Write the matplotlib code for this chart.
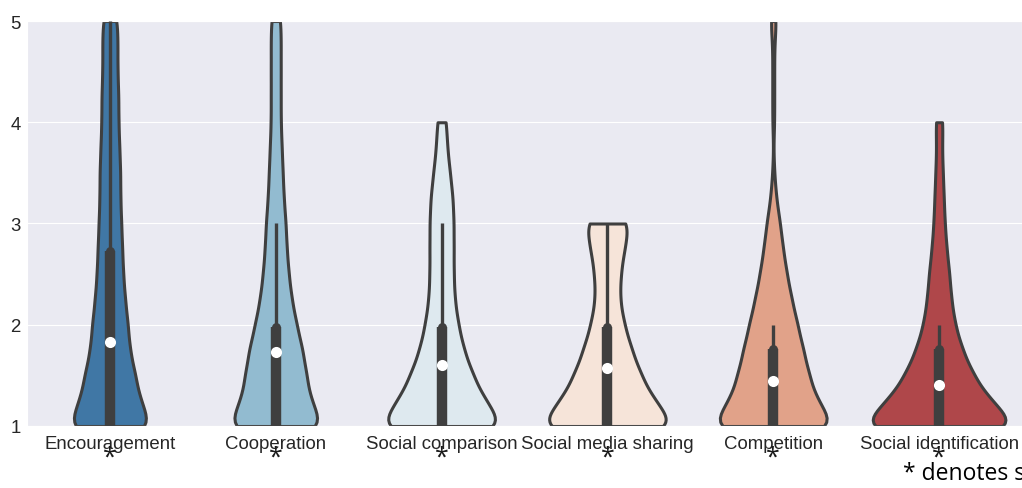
import matplotlib
matplotlib.use("Agg")
import matplotlib.pyplot as plt
import numpy as np
import pandas as pd
import seaborn as sns

# ---------------------------------------------------------------
# Mechanism ratings on a 1-5 scale
# ---------------------------------------------------------------

categories = [
    "Encouragement",
    "Cooperation",
    "Social comparison",
    "Social media sharing",
    "Competition",
    "Social identification",
]
significant = [True, True, True, True, True, True]

# rating levels and number of responses at each level
score_levels = [1.0, 1.25, 1.5, 1.75, 2.0, 2.25, 2.5, 2.75, 3.0,
                3.25, 3.5, 3.75, 4.0, 4.25, 4.5, 4.75, 5.0]

encouragement_counts = [46, 32, 27, 21, 19, 16, 14, 13, 12, 11, 11, 10, 9, 9, 8, 8, 8]
cooperation_counts = [50, 35, 31, 27, 21, 16, 13, 11, 10, 8, 7, 6, 5, 5, 5, 5, 5]
comparison_counts = [70, 47, 34, 24, 18, 14, 13, 13, 13, 12, 9, 6, 5, 0, 0, 0, 0]
sharing_counts = [76, 50, 36, 26, 18, 13, 14, 18, 24, 0, 0, 0, 0, 0, 0, 0, 0]
competition_counts = [67, 45, 37, 31, 25, 19, 14, 10, 7, 3, 1, 0, 1, 1, 1, 1, 3]
identification_counts = [88, 55, 37, 25, 17, 13, 11, 8, 6, 5, 4, 3, 4, 0, 0, 0, 0]

# box summaries per mechanism
q1 = [1.0, 1.0, 1.0, 1.0, 1.0, 1.0]
median = [1.83, 1.73, 1.6, 1.57, 1.44, 1.4]
q3 = [2.73, 1.98, 1.98, 1.98, 1.76, 1.76]
whisker_low = [1.0, 1.0, 1.0, 1.0, 1.0, 1.0]
whisker_high = [5.0, 3.0, 3.0, 3.0, 2.0, 2.0]

counts = [
    encouragement_counts,
    cooperation_counts,
    comparison_counts,
    sharing_counts,
    competition_counts,
    identification_counts,
]

df = pd.concat(
    [pd.DataFrame({"mechanism": name, "score": np.repeat(score_levels, c)})
     for name, c in zip(categories, counts)],
    ignore_index=True,
)

# ---------------------------------------------------------------
# Plot
# ---------------------------------------------------------------

sns.set_style("darkgrid")
plt.rcParams["font.family"] = ["Liberation Sans", "DejaVu Sans"]

LINE = "#3f3f3f"
BANDWIDTH = 0.15

fig = plt.figure(figsize=(10.22, 4.89), dpi=100)
ax = fig.add_axes([0.0264, 0.1268, 0.9736, 0.8282])

sns.violinplot(
    data=df,
    x="mechanism",
    y="score",
    hue="mechanism",
    order=categories,
    hue_order=categories,
    palette="RdBu_r",
    cut=0,
    bw_method=lambda kde: BANDWIDTH / kde.dataset.std(ddof=1),
    density_norm="area",
    common_norm=True,
    inner=None,
    linewidth=2.2,
    linecolor=LINE,
    legend=False,
    ax=ax,
)

# inner box: whisker, interquartile bar and median dot
x = np.arange(len(categories))
ax.vlines(x, whisker_low, whisker_high, color=LINE, linewidth=2.4, zorder=3)
ax.vlines(x, q1, q3, color=LINE, linewidth=7.5, zorder=3)
ax.plot(x, q3, "o", color=LINE, markersize=5.4, zorder=3)
ax.plot(x, median, "o", color="white", markersize=8, markeredgewidth=0, zorder=4)

ax.set_xlim(-0.5, len(categories) - 0.5)
ax.set_ylim(1, 5)
ax.set_yticks([1, 2, 3, 4, 5])
ax.set_xlabel("")
ax.set_ylabel("")
ax.tick_params(axis="both", labelsize=13.4, colors="#262626", pad=3)
ax.tick_params(axis="y", pad=1)

# significance markers under each mechanism name
for i, flag in enumerate(significant):
    if flag:
        ax.text(i, -0.094, "*", transform=ax.get_xaxis_transform(),
                ha="center", va="baseline", fontsize=18, color="#1a1a1a",
                family=["Open Sans", "DejaVu Sans"])

fig.text(0.8836, 0.019, "* denotes significance", fontsize=16.5,
         family=["Open Sans", "DejaVu Sans"], color="black", va="baseline")

fig.savefig("out.png", dpi=100)
